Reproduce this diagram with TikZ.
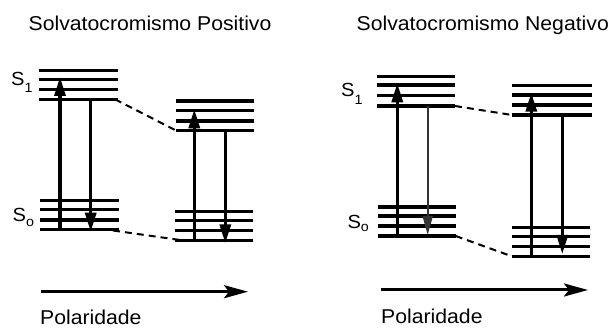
\documentclass[tikz,border=0pt]{standalone}
\usepackage{fontspec}
\setmainfont{Liberation Sans}[FakeStretch=1.06]
\usetikzlibrary{arrows.meta}

\tikzset{
  level/.style={line width=3.2pt},
  transition/.style={line width=3.3pt, -{Triangle[length=19pt,width=11pt]}},
  weak/.style={line width=2pt, draw=black!80, -{Triangle[length=19pt,width=10pt]}},
  levelshift/.style={line width=2pt, dash pattern=on 7pt off 5pt},
  axis/.style={line width=3pt, -{Stealth[length=24pt,width=13pt,inset=5pt]}},
  caption/.style={inner sep=0pt, anchor=base west, font=\fontsize{20}{20}\selectfont},
  state/.style={inner sep=0pt, anchor=base west, font=\fontsize{19}{19}\selectfont}
}
\newcommand{\lowsub}[2]{\raisebox{-#1pt}{\fontsize{13.5}{13.5}\selectfont #2}}

\begin{document}
\begin{tikzpicture}[x=1pt,y=-1pt]
\useasboundingbox (0,0) rectangle (613,328);

% ---------- titles ----------
\node[caption] (tpos) at (28.5,30.5) {Solvatocromismo Positivo};
\node[caption] (tneg) at (356.5,30.5) {Solvatocromismo Negativo};

% ---------- positive solvatochromism: energy levels ----------
\foreach \y in {70.7,79.3,89.3,99.3}   \draw[level] (39,\y) -- (118,\y);
\foreach \y in {200.7,209.3,220,229.3} \draw[level] (40,\y) -- (119,\y);
\foreach \y in {101,110.7,121,130.3}   \draw[level] (175.7,\y) -- (254,\y);
\foreach \y in {211.3,220.7,230.3,240.3}\draw[level] (175,\y) -- (253,\y);

\coordinate (a-up0) at (60,229.3);   \coordinate (a-up1) at (60,77);
\coordinate (a-dn1) at (90.7,99.3);  \coordinate (a-dn0) at (90.7,231.7);
\coordinate (b-up0) at (194.3,240.3);\coordinate (b-up1) at (194.3,109.3);
\coordinate (b-dn1) at (225.3,130.3);\coordinate (b-dn0) at (225.3,243.3);
\coordinate (a-s1) at (115,99.3);    \coordinate (b-s1) at (175.7,130.3);
\coordinate (a-s0) at (113,230.5);   \coordinate (b-s0) at (180,240);

\draw[transition] (a-up0) -- (a-up1);
\draw[transition] (a-dn1) -- (a-dn0);
\draw[transition] (b-up0) -- (b-up1);
\draw[transition] (b-dn1) -- (b-dn0);
\draw[levelshift] (a-s1) -- (b-s1);
\draw[levelshift] (a-s0) -- (b-s0);

\node[state] (ps1) at (11,86) {S\lowsub{7}{1}};
\node[state] (ps0) at (12.5,221.7) {S\lowsub{5}{o}};

% ---------- negative solvatochromism: energy levels ----------
\foreach \y in {76.7,85,95.7,106}      \draw[level] (376.7,\y) -- (455,\y);
\foreach \y in {207,216,226,236}       \draw[level] (377.7,\y) -- (455.7,\y);
\foreach \y in {85.3,95,105,115}       \draw[level] (512.3,\y) -- (591.7,\y);
\foreach \y in {227.3,236.7,246.7,256.7}\draw[level] (511.7,\y) -- (590,\y);

\coordinate (c-up0) at (397.3,236);  \coordinate (c-up1) at (397.3,83.3);
\coordinate (c-dn1) at (427.7,106);  \coordinate (c-dn0) at (427.7,235);
\coordinate (d-up0) at (531.3,256.7);\coordinate (d-up1) at (531.3,92.7);
\coordinate (d-dn1) at (562.3,115);  \coordinate (d-dn0) at (562.3,254);
\coordinate (c-s1) at (455,106);     \coordinate (d-s1) at (512,115);
\coordinate (c-s0) at (455.7,236);   \coordinate (d-s0) at (511,256);

\draw[transition] (c-up0) -- (c-up1);
\draw[weak]       (c-dn1) -- (c-dn0);
\draw[transition] (d-up0) -- (d-up1);
\draw[transition] (d-dn1) -- (d-dn0);
\draw[levelshift] (c-s1) -- (d-s1);
\draw[levelshift] (c-s0) -- (d-s0);

\node[state] (ns1) at (341,96.7) {S\lowsub{8}{1}};
\node[state] (ns0) at (347.3,228.3) {S\lowsub{3}{o}};

% ---------- polarity axes ----------
\coordinate (pa0) at (40.7,291.7);  \coordinate (pa1) at (248,291.7);
\coordinate (na0) at (381.3,290);   \coordinate (na1) at (588,290);
\draw[axis] (pa0) -- (pa1);
\draw[axis] (na0) -- (na1);
\node[caption] (ppol) at (40,324.3) {Polaridade};
\node[caption] (npol) at (381,323.3) {Polaridade};
\end{tikzpicture}
\end{document}
